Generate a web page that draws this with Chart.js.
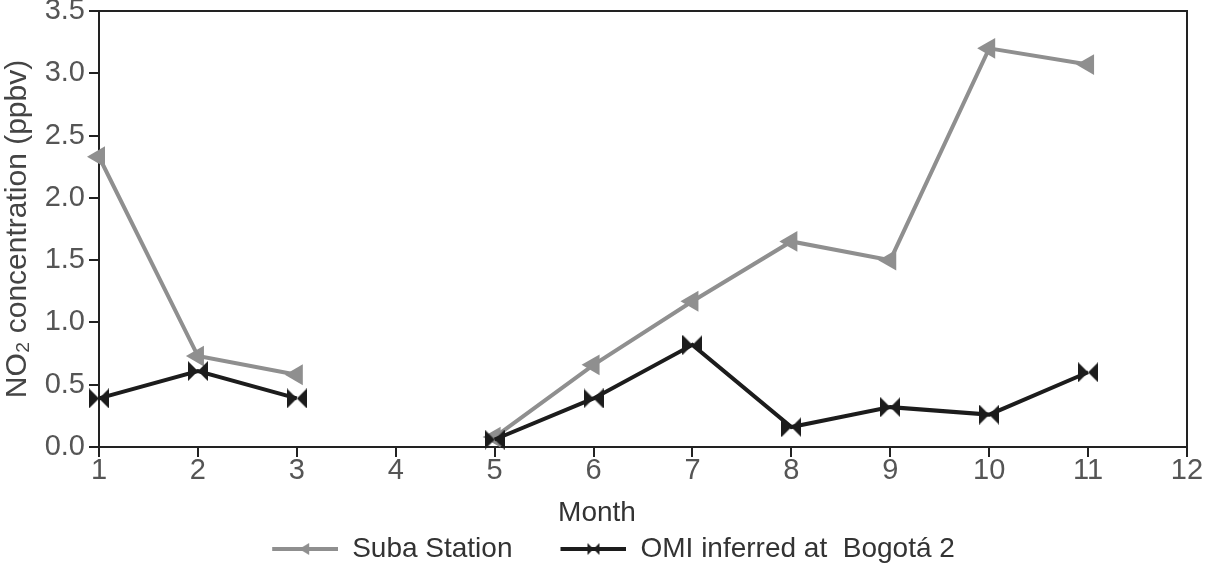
<!DOCTYPE html>
<html>
<head>
<meta charset="utf-8">
<script src="https://cdn.jsdelivr.net/npm/chart.js@4"></script>
<style>
  body { margin: 0; background: #fff; }
  #wrap { width: 1205px; height: 567px; }
</style>
</head>
<body>
<div id="wrap"><canvas id="no2"></canvas></div>
<script>
// monthly values (month 4 has no data)
const months = [1, 2, 3, 4, 5, 6, 7, 8, 9, 10, 11];
const suba = [2.33, 0.73, 0.58, null, 0.08, 0.66, 1.17, 1.65, 1.50, 3.20, 3.07];
const omi = [0.39, 0.61, 0.39, null, 0.06, 0.39, 0.82, 0.16, 0.32, 0.26, 0.60];
const seriesNames = ['Suba Station', 'OMI inferred at  Bogotá 2'];
const yTicks = [0, 0.5, 1, 1.5, 2, 2.5, 3, 3.5];

const grey = '#8f8f8f', black = '#1c1c1c';
const fontFam = '"Liberation Sans", Arial, sans-serif';
Chart.defaults.font.family = fontFam;

// bowtie marker  ▶◀
function bowtie(size, color) {
    const c = document.createElement('canvas');
    c.width = size; c.height = size;
    const ctx = c.getContext('2d');
    const h = size / 2;
    ctx.fillStyle = color;
    ctx.beginPath();
    ctx.moveTo(0, 0); ctx.lineTo(h, h); ctx.lineTo(0, size); ctx.closePath();
    ctx.moveTo(size, 0); ctx.lineTo(h, h); ctx.lineTo(size, size); ctx.closePath();
    ctx.fill();
    return c;
}

// legend sample: blank on the left, then a line with the marker in the middle
function legendSample(color, marker) {
    const c = document.createElement('canvas');
    c.width = 106; c.height = 16;
    const ctx = c.getContext('2d');
    ctx.strokeStyle = color;
    ctx.fillStyle = color;
    ctx.lineWidth = 4;
    ctx.beginPath();
    ctx.moveTo(40, 8); ctx.lineTo(106, 8);
    ctx.stroke();
    if (marker == 'tri') {
        ctx.beginPath();
        ctx.moveTo(67, 8); ctx.lineTo(77, 2); ctx.lineTo(77, 14); ctx.closePath();
        ctx.fill();
    } else {
        ctx.drawImage(bowtie(12, color), 67, 2);
    }
    return c;
}

const frame = {
    id: 'frame',
    afterLayout(chart) {
        // legend sits a little lower in the figure
        chart.legend.top += 6;
        chart.legend.bottom += 6;
    },
    afterDraw(chart) {
        const {ctx, chartArea: a} = chart;
        ctx.save();
        ctx.strokeStyle = '#222';
        ctx.lineWidth = 2;
        ctx.beginPath();
        ctx.moveTo(a.left, a.top); ctx.lineTo(a.right, a.top); ctx.lineTo(a.right, a.bottom);
        ctx.stroke();
        // x axis title, placed as in the figure
        ctx.fillStyle = '#333';
        ctx.font = '28px ' + fontFam;
        ctx.textAlign = 'center';
        ctx.textBaseline = 'middle';
        ctx.fillText('Month', 597, 513);
        ctx.restore();
    }
};

const toPoints = vals => months.map((m, i) => ({x: m, y: vals[i]}));

new Chart('no2', {
    type: 'line',
    data: {
        datasets: [{
            label: seriesNames[0],
            data: toPoints(suba),
            borderColor: grey,
            backgroundColor: grey,
            borderWidth: 4,
            pointStyle: 'triangle',
            rotation: -90,
            pointRadius: 12,
            pointBorderWidth: 0,
            clip: false,
            order: 1
        }, {
            label: seriesNames[1],
            data: toPoints(omi),
            borderColor: black,
            backgroundColor: black,
            borderWidth: 4,
            pointStyle: bowtie(20, black),
            pointRadius: 10,
            clip: false,
            order: 0
        }]
    },
    options: {
        responsive: true,
        maintainAspectRatio: false,
        animation: false,
        layout: { autoPadding: false, padding: { top: 0, right: 18, left: 0, bottom: 0 } },
        scales: {
            x: {
                type: 'linear',
                min: 1,
                max: 12,
                afterFit: s => { s.height = s.chart.height - 447 - s.chart.legend.height; },
                ticks: { stepSize: 1, color: '#555', font: { size: 29 }, padding: -3 },
                grid: { drawOnChartArea: false, tickLength: 10, color: '#222', lineWidth: 2 },
                border: { color: '#222', width: 2 }
            },
            y: {
                min: 0,
                max: 3.5,
                afterFit: s => { s.width = 99; s.paddingTop = 11; s.paddingBottom = 0; },
                afterBuildTicks: s => { s.ticks = yTicks.map(v => ({value: v})); },
                ticks: { color: '#555', font: { size: 29, lineHeight: 0.76 }, padding: 4, callback: v => v.toFixed(1) },
                grid: { drawOnChartArea: false, tickLength: 10, color: '#222', lineWidth: 2 },
                border: { color: '#222', width: 2 },
                title: {
                    display: true,
                    text: 'NO₂ concentration (ppbv)',
                    color: '#444',
                    font: { size: 30 },
                    padding: 0
                }
            }
        },
        plugins: {
            tooltip: { enabled: false },
            legend: {
                position: 'bottom',
                labels: {
                    usePointStyle: true,
                    pointStyleWidth: 106,
                    padding: 8,
                    color: '#333',
                    font: { size: 28 },
                    generateLabels: () => [
                        { text: seriesNames[0], pointStyle: legendSample(grey, 'tri'), fontColor: '#333', datasetIndex: 0 },
                        { text: seriesNames[1], pointStyle: legendSample(black, 'bow'), fontColor: '#333', datasetIndex: 1 }
                    ]
                }
            }
        }
    },
    plugins: [frame]
});
</script>
</body>
</html>
